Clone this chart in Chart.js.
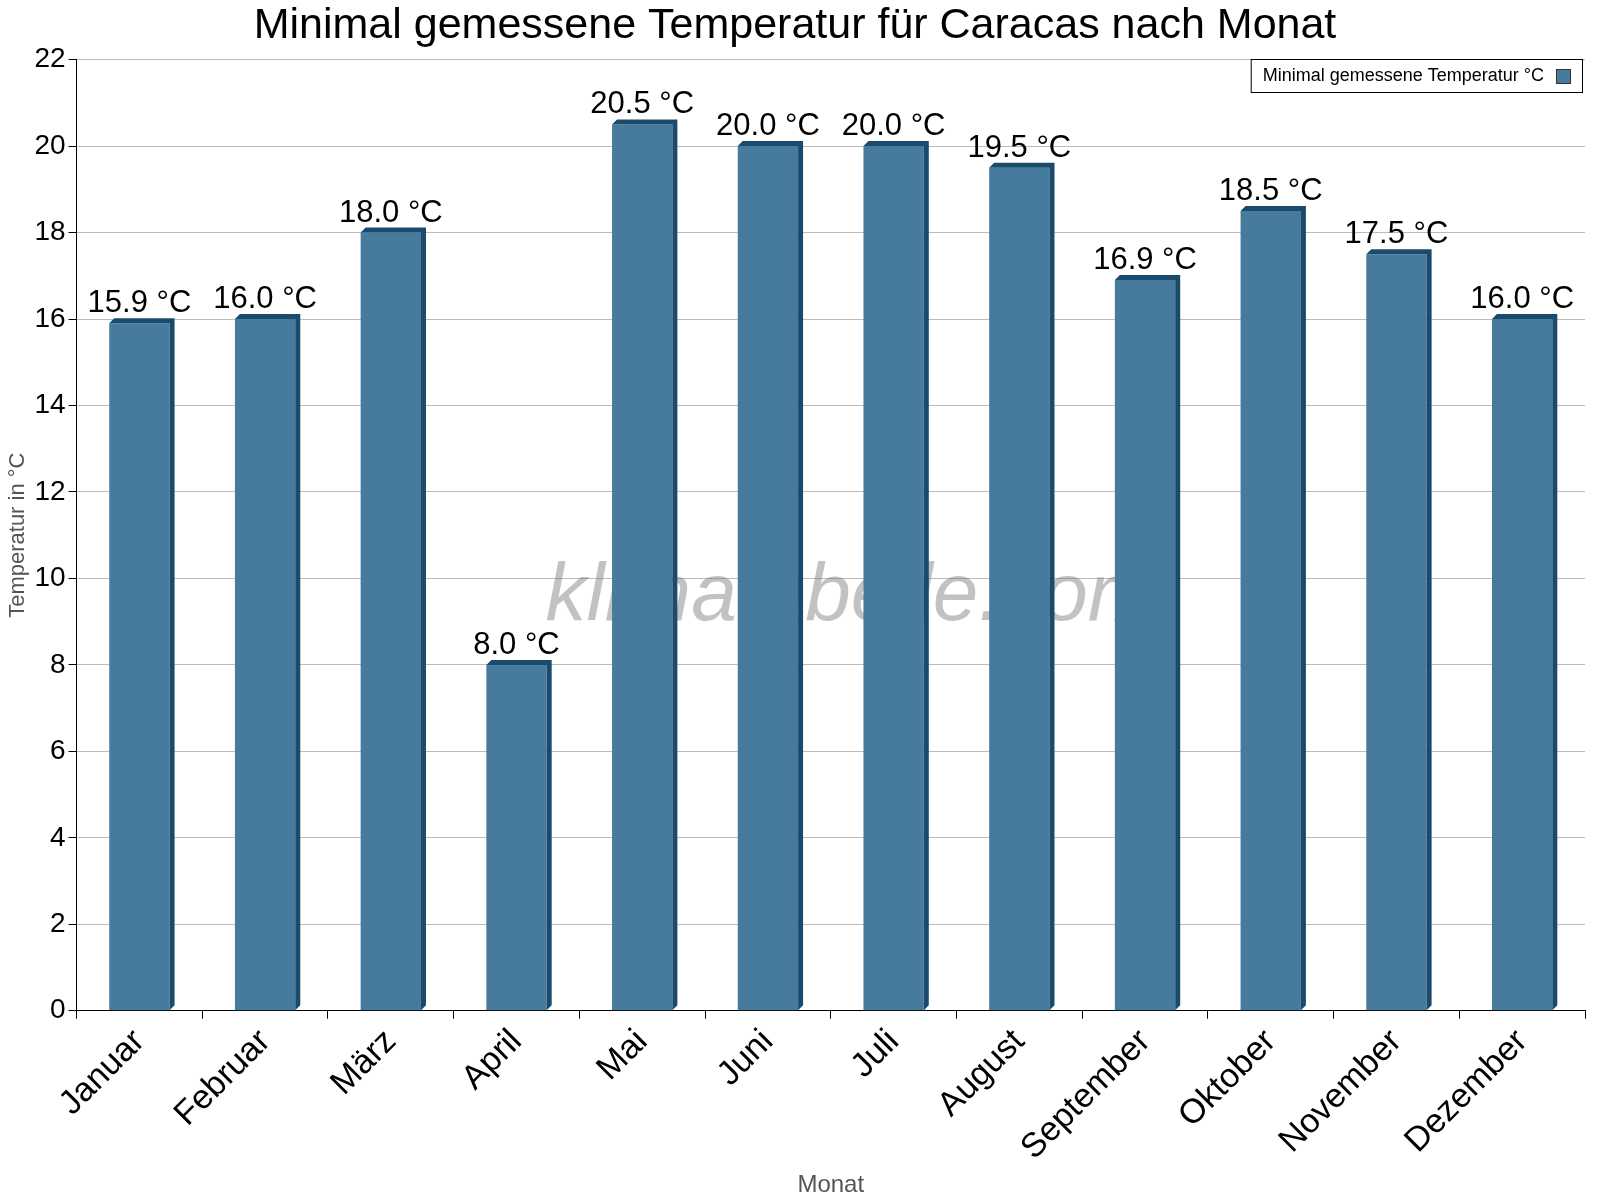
<!DOCTYPE html>
<html><head><meta charset="utf-8">
<script src="https://cdn.jsdelivr.net/npm/chart.js@4"></script>
<style>body{margin:0;background:#fff}</style>
</head><body><canvas id="chart" width="1600" height="1200"></canvas>
<script>
// Daten
const months = ["Januar","Februar","März","April","Mai","Juni","Juli","August","September","Oktober","November","Dezember"];
const minTemps = [15.9, 16.0, 18.0, 8.0, 20.5, 20.0, 20.0, 19.5, 16.9, 18.5, 17.5, 16.0];
const seriesName = "Minimal gemessene Temperatur °C";

const FONT = "'Liberation Sans', Arial, sans-serif";
const BAR = "#467b9e", EDGE = "#1b4b6c";

// 3D-Kante, Werte, Wasserzeichen, Legende
const extras = {
  id: "extras",
  beforeDatasetsDraw(c) {
    const ctx = c.ctx, a = c.chartArea;
    ctx.save();
    ctx.font = "italic 82px " + FONT;
    ctx.fillStyle = "rgba(120,120,120,0.45)";
    ctx.textAlign = "center"; ctx.textBaseline = "middle";
    ctx.fillText("klimatabelle.com", (a.left + a.right) / 2 + 20, 597);
    ctx.restore();
  },
  afterDatasetsDraw(c) {
    const ctx = c.ctx;
    const meta = c.getDatasetMeta(0);
    ctx.save();
    meta.data.forEach((b, i) => {
      const w = b.width, l = b.x - w / 2, r = b.x + w / 2;
      ctx.fillStyle = EDGE;
      ctx.beginPath();
      ctx.moveTo(l, b.y); ctx.lineTo(l + 5, b.y - 5); ctx.lineTo(r + 5, b.y - 5);
      ctx.lineTo(r + 5, b.base - 5); ctx.lineTo(r, b.base); ctx.lineTo(r, b.y); ctx.closePath();
      ctx.fill();
      ctx.fillStyle = "#000";
      ctx.font = "31px " + FONT;
      ctx.textAlign = "center"; ctx.textBaseline = "bottom";
      ctx.fillText(minTemps[i].toFixed(1) + " °C", b.x, b.y - 4);
    });
    // Legende
    ctx.font = "18px " + FONT;
    const tw = ctx.measureText(seriesName).width;
    const bw = tw + 50, bx = 1582 - bw, by = 59;
    ctx.fillStyle = "#fff"; ctx.fillRect(bx, by, bw, 33);
    ctx.strokeStyle = "#000"; ctx.lineWidth = 1; ctx.strokeRect(bx + 0.5, by + 0.5, bw, 33);
    ctx.fillStyle = "#000"; ctx.textAlign = "left"; ctx.textBaseline = "middle";
    ctx.fillText(seriesName, bx + 12, by + 17);
    ctx.fillStyle = BAR; ctx.fillRect(bx + tw + 24, by + 10, 14, 14);
    ctx.strokeStyle = "#333"; ctx.strokeRect(bx + tw + 24.5, by + 10.5, 14, 14);
    ctx.restore();
  }
};

new Chart(document.getElementById("chart"), {
  type: "bar",
  data: { labels: months, datasets: [{ label: seriesName, data: minTemps, backgroundColor: BAR, barPercentage: 0.48, categoryPercentage: 1 }] },
  plugins: [extras],
  options: {
    responsive: false, animation: false, devicePixelRatio: 1,
    layout: { padding: { top: 0, right: 15, left: 5, bottom: 0 } },
    plugins: {
      legend: { display: false },
      tooltip: { enabled: false },
      title: { display: true, text: "Minimal gemessene Temperatur für Caracas nach Monat", color: "#000",
               font: { family: FONT, size: 43, weight: "normal" }, padding: { top: 0, bottom: 8 } }
    },
    scales: {
      x: {
        grid: { display: true, drawOnChartArea: false, color: "#000", tickLength: 8, offset: true },
        border: { color: "#000" },
        ticks: { color: "#000", font: { family: FONT, size: 34 }, maxRotation: 45, minRotation: 45, autoSkip: false },
        title: { display: true, text: "Monat", color: "#555", font: { family: FONT, size: 24 }, padding: 0 }
      },
      y: {
        min: 0, max: 22,
        ticks: { stepSize: 2, color: "#000", font: { family: FONT, size: 28 } },
        grid: { color: "#bbb", borderDash: [2, 4], tickColor: "#000", tickLength: 8 },
        border: { color: "#000" },
        title: { display: true, text: "Temperatur in °C", color: "#555", font: { family: FONT, size: 22 }, padding: 0 }
      }
    }
  }
});
</script>
</body></html>
